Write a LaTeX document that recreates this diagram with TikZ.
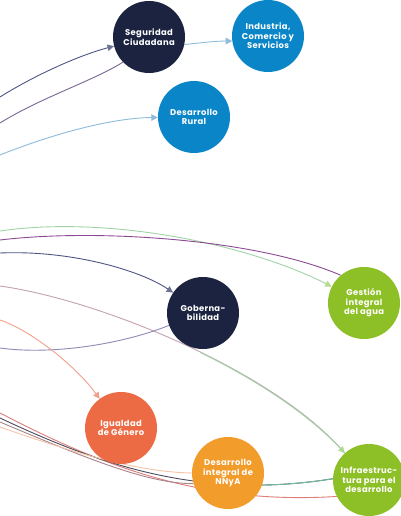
\documentclass[tikz,border=0pt]{standalone}
\usepackage{fontspec}
\setmainfont{Poppins}
\usetikzlibrary{arrows.meta}
\pgfdeclarelayer{paper}
\pgfdeclarelayer{bg}
\pgfsetlayers{paper,bg,main}
\definecolor{cnavy}{HTML}{1B2340}
\definecolor{cblue}{HTML}{0A86C8}
\definecolor{cgreen}{HTML}{8DBF26}
\definecolor{cred}{HTML}{EC6B45}
\definecolor{corange}{HTML}{F29C2B}
\definecolor{lnavy}{HTML}{4F5585}
\definecolor{lpurple}{HTML}{7A6496}
\definecolor{lblue}{HTML}{8DBBDC}
\definecolor{lgreen}{HTML}{9FD4A6}
\definecolor{lmagenta}{HTML}{8C4A94}
\definecolor{lpink}{HTML}{C4A0B0}
\definecolor{lviolet}{HTML}{9088B6}
\definecolor{lsalmon}{HTML}{F2A08C}
\definecolor{lred}{HTML}{DE7C78}
\definecolor{ldark}{HTML}{4A4C5C}
\definecolor{lbrown}{HTML}{A88488}
\definecolor{lorange}{HTML}{F7C4A6}
\definecolor{tgreen}{HTML}{B9DC8C}
\definecolor{tnavy}{HTML}{6E7494}
\definecolor{lteal}{HTML}{6DBE9A}
\begin{document}
\begin{tikzpicture}[x=1pt,y=-1pt,
  hub/.style={circle,minimum size=72pt,inner sep=0pt,text=white,
    font=\addfontfeatures{LetterSpace=4}\bfseries\fontsize{8.4}{9.4}\selectfont,align=center},
  link/.style={line width=0.9pt},
  tip/.style={-{Triangle[length=6.5pt,width=6.5pt]}}]
\useasboundingbox (0,0) rectangle (400,516);
\begin{pgfonlayer}{paper}
\fill[white] (0,0) rectangle (400,516);
\end{pgfonlayer}

% nodes
\node[hub,fill=cnavy] (seg) at (149,37) {Seguridad\\Ciudadana};
\node[hub,fill=cblue] (ind) at (268,36) {Industria,\\Comercio y\\Servicios};
\node[hub,fill=cblue] (rur) at (194,117) {Desarrollo\\Rural};
\node[hub,fill=cnavy] (gob) at (203,313) {Goberna-\\bilidad};
\node[hub,fill=cgreen] (agu) at (364,303) {Gestión\\integral\\del agua};
\node[hub,fill=cred] (igu) at (121,428) {Igualdad\\de Género};
\node[hub,fill=corange] (nna) at (228,473) {Desarrollo\\integral de\\NNyA};
\node[hub,fill=cgreen] (inf) at (369,480) {Infraestruc-\\tura para el\\desarrollo};

% free ends at the left edge
\coordinate (l1) at (0,97);
\coordinate (l2) at (0,123);
\coordinate (l4) at (0,155);
\coordinate (l5) at (0,231);
\coordinate (l6) at (0,240);
\coordinate (l7) at (0,253);
\coordinate (l8) at (0,286);
\coordinate (l9) at (0,348);
\coordinate (l10) at (0,320);
\coordinate (l11) at (0,413);
\coordinate (l12) at (0,418);
\coordinate (l13) at (0,422);
\coordinate (l14) at (0,427);

\begin{pgfonlayer}{bg}
\draw[link,lnavy,-{Triangle[length=6.5pt,width=6.5pt,color=tnavy]}] (l1) .. controls (35,75) and (80,55) .. (seg);
\draw[link,lpurple] (l2) .. controls (40,98) and (95,80) .. (seg.224);
\draw[link,lblue,tip] (seg.-12) .. controls (200,43) and (215,41) .. (ind.188);
\draw[link,lblue,tip] (l4) .. controls (50,135) and (110,118) .. (rur);
\draw[link,lgreen,-{Triangle[length=6.5pt,width=6.5pt,color=tgreen]}] (l5) .. controls (110,215) and (250,245) .. (agu);
\draw[link,lmagenta] (l6) .. controls (100,228) and (260,240) .. (agu.130);
\draw[link,lnavy,-{Triangle[length=6.5pt,width=6.5pt,color=tnavy]}] (l7) .. controls (70,250) and (140,270) .. (gob);
\draw[link,lpink,-{Triangle[length=6.5pt,width=6.5pt,color=tgreen]}] (l8) .. controls (100,300) and (270,370) .. (inf);
\begin{scope}
\clip (200,330) rectangle (400,516);
\draw[link,lgreen] (l8) .. controls (100,300) and (270,370) .. (inf);
\end{scope}
\draw[link,lviolet] (gob.200) .. controls (120,345) and (50,355) .. (l9);
\draw[link,lsalmon,tip] (l10) .. controls (30,330) and (75,365) .. (igu);
\draw[link,lred] (l11) .. controls (100,465) and (200,505) .. (inf.207);
\draw[link,ldark] (l12) .. controls (100,465) and (200,500) .. (inf.178);
\begin{scope}
\clip (240,400) rectangle (400,516);
\draw[link,lteal] (l12) .. controls (100,465) and (200,500) .. (inf.178);
\end{scope}
\draw[link,lbrown] (l13) .. controls (90,460) and (150,484) .. (nna.197);
\draw[link,lorange] (l14) .. controls (80,455) and (140,472) .. (nna.180);
\end{pgfonlayer}
\end{tikzpicture}
\end{document}
